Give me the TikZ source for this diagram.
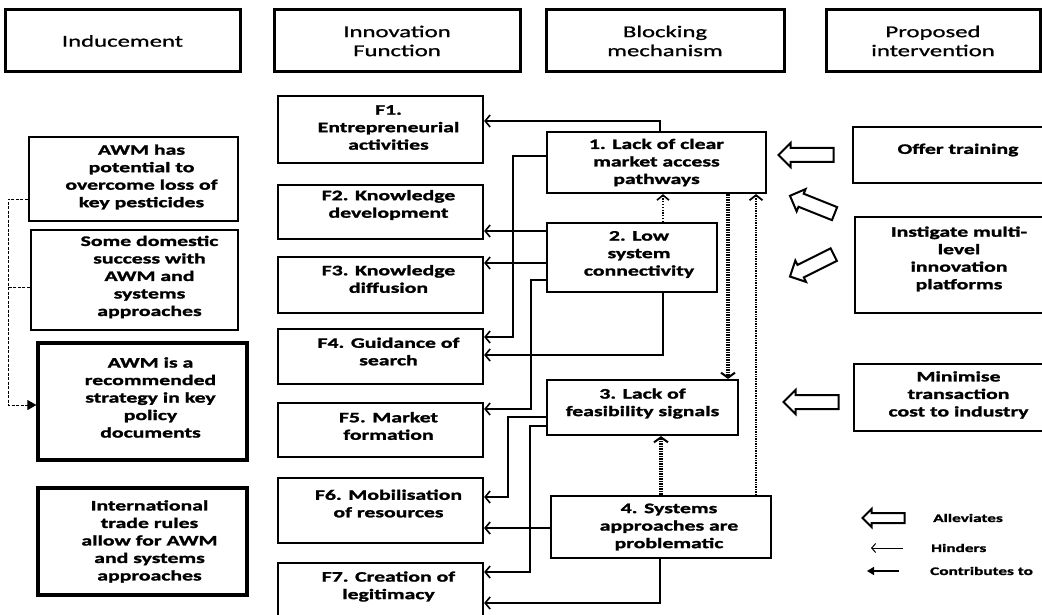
\documentclass[tikz,border=0pt]{standalone}
\usepackage{fontspec}
\setmainfont{Carlito}[FakeStretch=1.5, BoldFeatures={FakeBold=1.6}]
\newfontfamily\hdrfont{Carlito}[FakeStretch=1.5, FakeBold=1]
\usetikzlibrary{arrows.meta,shapes.arrows}
\begin{document}
\begin{tikzpicture}[x=1pt,y=-1pt,
  box/.style={draw, line width=2.2pt, inner sep=0pt},
  heavy/.style={box, line width=3.2pt},
  hdr/.style={draw, line width=3pt, minimum height=62pt, inner sep=0pt,
    align=center, font=\hdrfont\fontsize{16.5}{19}\selectfont},
  lbl/.style={align=center, inner sep=0pt,
    font=\bfseries\fontsize{14.5}{17.5}\selectfont},
  con/.style={line width=2pt, -{Straight Barb[length=5pt,width=12pt,line width=1.6pt]}},
  hind/.style={line width=1.2pt, dash pattern=on 1.2pt off 1.6pt,
    -{Straight Barb[length=5pt,width=12pt,line width=1.6pt]}},
  middot/.style={line width=2.4pt, dash pattern=on 1.3pt off 1.1pt,
    -{Straight Barb[length=5pt,width=13pt,line width=1.8pt]}},
  thickdot/.style={line width=3.4pt, dash pattern=on 1.5pt off 1pt,
    -{Straight Barb[length=5pt,width=14pt,line width=2pt]}},
  dashlink/.style={line width=1pt, dash pattern=on 3pt off 1.5pt},
  arw/.style={single arrow, draw, fill=white, line width=2pt, inner xsep=0pt,
    inner ysep=6pt, single arrow head extend=5pt, single arrow tip angle=90},
  legtxt/.style={anchor=west, inner sep=0pt, font=\bfseries\fontsize{11.5}{13}\selectfont}
]
\fill[white] (0,0) rectangle (1042,615);
\useasboundingbox (0,0) rectangle (1042,615);

% column headings
\node[hdr, minimum width=235pt] (hInd) at (122.5,41) {Inducement};
\node[hdr, minimum width=246pt] (hInn) at (397,41) {Innovation\\Function};
\node[hdr, minimum width=238pt] (hBlk) at (665,41) {Blocking\\mechanism};
\node[hdr, minimum width=214pt] (hPro) at (933,41) {Proposed\\intervention};

% inducement column
\node[box, minimum width=209pt, minimum height=84pt,
  label={[lbl,xshift=8pt,yshift=2pt]center:{AWM has\\potential to\\overcome loss of\\key pesticides}}] (i1) at (133.5,179) {};
\node[box, minimum width=207pt, minimum height=100pt,
  label={[lbl,xshift=15pt,yshift=3pt]center:{Some domestic\\success with\\AWM and\\systems\\approaches}}] (i2) at (134.5,280) {};
\node[heavy, minimum width=209pt, minimum height=117pt,
  label={[lbl,xshift=8pt,yshift=4pt]center:{AWM is a\\recommended\\strategy in key\\policy\\documents}}] (i3) at (142.5,401.5) {};
\node[heavy, minimum width=209pt, minimum height=107pt,
  label={[lbl,xshift=7pt]center:{International\\trade rules\\allow for AWM\\and systems\\approaches}}] (i4) at (142.5,541.5) {};

% innovation functions
\node[box, minimum width=205pt, minimum height=67pt,
  label={[lbl,xshift=8pt,yshift=2pt]center:{F1.\\Entrepreneurial\\activities}}] (f1) at (380.5,129.5) {};
\node[box, minimum width=205pt, minimum height=54pt,
  label={[lbl,xshift=8pt,yshift=7pt]center:{F2. Knowledge\\development}}] (f2) at (380.5,212) {};
\node[box, minimum width=205pt, minimum height=56pt,
  label={[lbl,xshift=8pt,yshift=6pt]center:{F3. Knowledge\\diffusion}}] (f3) at (380.5,285) {};
\node[box, minimum width=205pt, minimum height=55pt,
  label={[lbl,xshift=8pt,yshift=5pt]center:{F4. Guidance of\\search}}] (f4) at (380.5,356.5) {};
\node[box, minimum width=205pt, minimum height=54pt,
  label={[lbl,xshift=8pt,yshift=4pt]center:{F5. Market\\formation}}] (f5) at (380.5,430) {};
\node[box, minimum width=205pt, minimum height=65pt,
  label={[lbl,xshift=8pt,yshift=7pt]center:{F6. Mobilisation\\of resources}}] (f6) at (380.5,510.5) {};
\node[box, minimum width=205pt, minimum height=57pt,
  label={[lbl,xshift=8pt,yshift=5pt]center:{F7. Creation of\\legitimacy}}] (f7) at (380.5,591.5) {};

% blocking mechanisms
\node[box, minimum width=219pt, minimum height=61pt,
  label={[lbl]center:{1. Lack of clear\\market access\\pathways}}] (b1) at (656.5,162.5) {};
\node[box, minimum width=170pt, minimum height=69pt,
  label={[lbl,xshift=7pt,yshift=3pt]center:{2. Low\\system\\connectivity}}] (b2) at (632,257.5) {};
\node[box, minimum width=191pt, minimum height=55pt,
  label={[lbl,yshift=4pt]center:{3. Lack of\\feasibility signals}}] (b3) at (642.5,407.5) {};
\node[box, minimum width=220pt, minimum height=62pt,
  label={[lbl,xshift=8pt]center:{4. Systems\\approaches are\\problematic}}] (b4) at (661,527) {};

% proposed interventions
\node[box, minimum width=210pt, minimum height=56pt,
  label={[lbl,yshift=5pt]center:{Offer training}}] (p1) at (958,155) {};
\node[box, minimum width=208pt, minimum height=96pt,
  label={[lbl,yshift=6pt]center:{Instigate multi-\\level\\innovation\\platforms}}] (p2) at (959,265) {};
\node[box, minimum width=209pt, minimum height=67pt,
  label={[lbl,yshift=2.5pt]center:{Minimise\\transaction\\cost to industry}}] (p3) at (958.5,397.5) {};

% interventions alleviate blocking mechanisms
\node[arw, minimum height=55pt, rotate=180] (a1) at (809.5,155) {};
\node[arw, minimum height=48pt, rotate=158.2] (a2) at (815.5,206) {};
\node[arw, minimum height=49pt, rotate=206.6] (a3) at (815,264) {};
\node[arw, minimum height=55pt, rotate=180] (a4) at (814.5,402) {};

% blocking mechanisms acting on the functions
\draw[con] (b1.north -| 660,0) |- (f1.east |- 0,121);
\draw[con] (b2.west |- 0,231) -- (f2.east |- 0,231);
\draw[con] (b2.west |- 0,263) -- (f3.east |- 0,263);
\draw[con] (b1.west |- 0,156) -- (513,156) |- (f4.east |- 0,337);
\draw[con] (b2.west |- 0,280) -- (531,280) |- (f5.east |- 0,409);
\draw[con] (b2.south -| 663,0) |- (f4.east |- 0,355);
\draw[con] (b3.west |- 0,417) -- (508,417) |- (f6.east |- 0,497);
\draw[con] (b3.west |- 0,426) -- (530,426) |- (f7.east |- 0,572);
\draw[con] (b4.west |- 0,528) -- (f6.east |- 0,528);
\draw[con] (b4.south -| 660,0) |- (f7.east |- 0,603);

% links between blocking mechanisms
\draw[hind] (b2.north -| 663,0) -- (b1.south -| 663,0);
\draw[thickdot] (b1.south -| 728,0) -- (b3.north -| 728,0);
\draw[middot] (b4.north -| 756,0) -- (b1.south -| 756,0);
\draw[thickdot] (b4.north) -- (b3.south -| b4.north);

% inducement links
\coordinate (jn) at (8,287);
\draw[dashlink, -{Triangle[length=9pt,width=10pt]}] (i1.west |- 0,199) -- (8,199) |- (i3.west |- 0,405);
\draw[dashlink] (i2.west |- jn) -- (jn);

% legend
\node[arw, minimum height=42pt, inner ysep=4pt, single arrow head extend=4pt, rotate=180] (aL) at (886,518) {};
\node[legtxt] (lA) at (933,518) {Alleviates};
\coordinate (hA) at (903,548);
\coordinate (hB) at (871,548);
\draw[line width=1pt, -{Straight Barb[length=4pt,width=9pt]}] (hA) -- (hB);
\node[legtxt] (lH) at (931,548) {Hinders};
\coordinate (cA) at (899,571);
\coordinate (cB) at (867,571);
\draw[line width=1.5pt, -{Triangle[length=7pt,width=8pt]}] (cA) -- (cB);
\node[legtxt] (lC) at (930,571) {Contributes to};
\end{tikzpicture}
\end{document}
